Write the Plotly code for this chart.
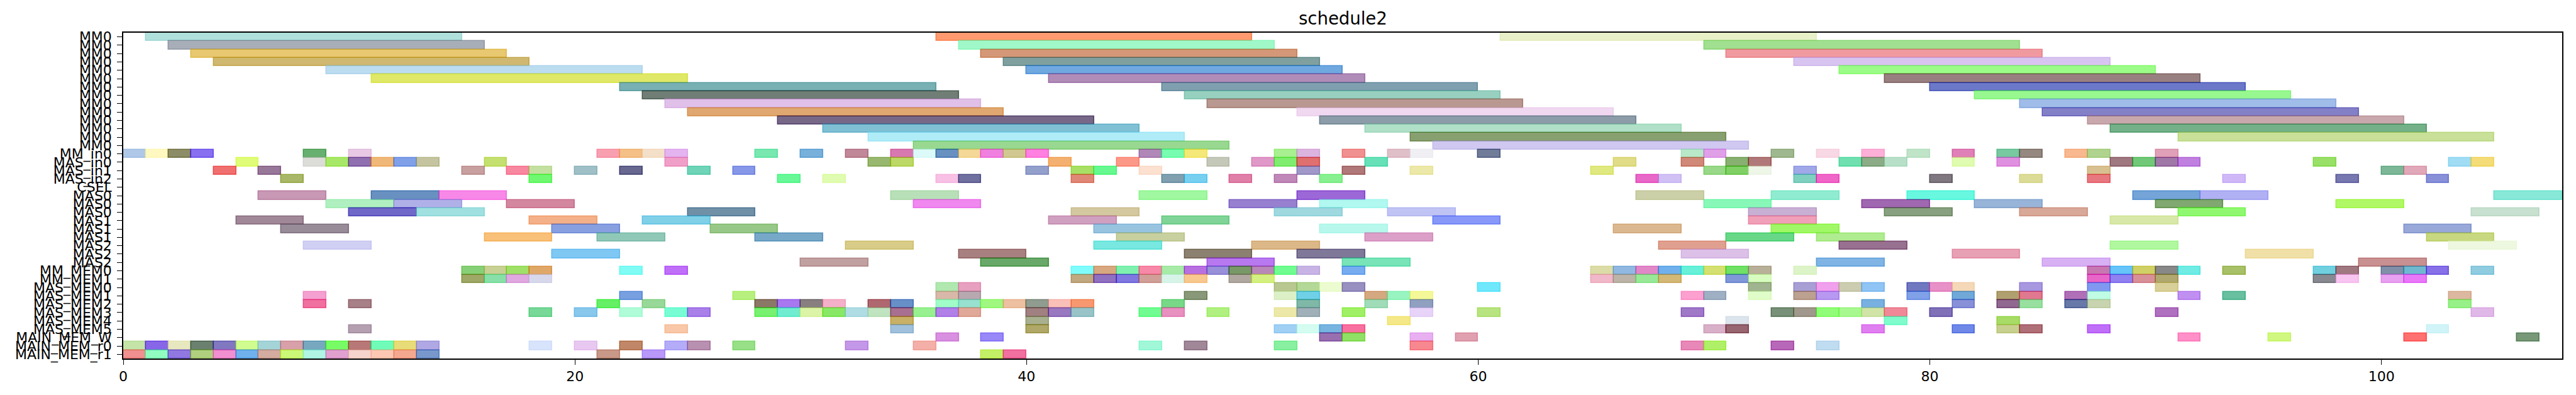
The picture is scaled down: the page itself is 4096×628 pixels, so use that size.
import plotly.graph_objects as go

ROW_LABELS = (["MM0"] * 14 + ["MM_in0", "MAS_in0", "MAS_in1", "MAS_in2", "CSEL"]
              + ["MAS0"] * 3 + ["MAS1"] * 3 + ["MAS2"] * 3
              + ["MM_MEM0", "MM_MEM1", "MAS_MEM0", "MAS_MEM1", "MAS_MEM2", "MAS_MEM3",
                 "MAS_MEM4", "MAS_MEM5", "MAIN_MEM_W", "MAIN_MEM_r0", "MAIN_MEM_r1"])

X_TICKS = [0, 20, 40, 60, 80, 100]
X_MAX = 108
TITLE = "schedule2"

# task spans (start, end) per row, and their colours
SPANS = [None] * 39
COLS = [None] * 39

SPANS[0] = [(1, 15), (36, 50), (61, 75)]
COLS[0] = ["#b0e0dc", "#ff9a70", "#e8f0c8"]
SPANS[1] = [(2, 16), (37, 51), (70, 84)]
COLS[1] = ["#a8aeb8", "#a0f8c8", "#a0e090"]
SPANS[2] = [(3, 17), (38, 52), (71, 85)]
COLS[2] = ["#e8c870", "#d49878", "#f09aa0"]
SPANS[3] = [(4, 18), (39, 53), (74, 88)]
COLS[3] = ["#d0b870", "#80a0a0", "#d8c4f0"]
SPANS[4] = [(9, 23), (40, 54), (76, 90)]
COLS[4] = ["#bcdcf0", "#70a8e0", "#9cfc88"]
SPANS[5] = [(11, 25), (41, 55), (78, 92)]
COLS[5] = ["#e0e868", "#b08cb8", "#988080"]
SPANS[6] = [(22, 36), (46, 60), (80, 94)]
COLS[6] = ["#78b0b4", "#80a0b0", "#6c78c8"]
SPANS[7] = [(23, 37), (47, 61), (82, 96)]
COLS[7] = ["#707e76", "#98d0c0", "#98f890"]
SPANS[8] = [(24, 38), (48, 62), (84, 98)]
COLS[8] = ["#e0c0e8", "#b89890", "#a0bce8"]
SPANS[9] = [(25, 39), (52, 66), (85, 99)]
COLS[9] = ["#e0a870", "#f0d8f0", "#8480c8"]
SPANS[10] = [(29, 43), (53, 67), (87, 101)]
COLS[10] = ["#786888", "#8c9ca8", "#c8a8ac"]
SPANS[11] = [(31, 45), (55, 69), (88, 102)]
COLS[11] = ["#80c0d4", "#b0e0c8", "#74b088"]
SPANS[12] = [(33, 47), (57, 71), (91, 105)]
COLS[12] = ["#b0ecf8", "#88a070", "#c8e098"]
SPANS[13] = [(35, 49), (58, 72)]
COLS[13] = ["#98d890", "#d0c8f0"]

SPANS[14] = [(0, 1), (1, 2), (2, 3), (3, 4), (8, 9), (10, 11), (21, 22), (22, 23), (23, 24), (24, 25),
             (28, 29), (30, 31), (32, 33), (34, 35), (35, 36), (36, 37), (37, 38), (38, 39), (39, 40),
             (40, 41), (45, 46), (46, 47), (47, 48), (51, 52), (52, 53), (54, 55), (56, 57), (57, 58),
             (60, 61), (69, 70), (70, 71), (73, 74), (75, 76), (77, 78), (79, 80), (81, 82), (83, 84),
             (84, 85), (86, 87), (87, 88), (90, 91)]
COLS[14] = ["#b0c8e8", "#fff8c0", "#8c8c60", "#8870f0", "#68b070", "#e8c8e4", "#f8a0b0", "#f4c088",
            "#f4e0c8", "#e4b4f0", "#78e8b0", "#78b0dc", "#c08898", "#d878b0", "#dcfaf8", "#6890c0",
            "#f4d898", "#f080e0", "#d0c890", "#ff80e0", "#b088b8", "#78fcb0", "#f4e878", "#a8f090",
            "#dcb4e0", "#f09090", "#e0c0c8", "#f0f0f4", "#707c98", "#b8e8c8", "#e0a0e8", "#a0b890",
            "#f8d8e4", "#fcb0d8", "#c0e4c8", "#e080b8", "#78c8a0", "#948880", "#f8b890", "#b0d490",
            "#e0a0b8"]

SPANS[15] = [(5, 6), (8, 9), (9, 10), (10, 11), (11, 12), (12, 13), (13, 14), (16, 17), (24, 25),
             (33, 34), (34, 35), (41, 42), (44, 45), (48, 49), (50, 51), (51, 52), (52, 53), (55, 56),
             (66, 67), (69, 70), (71, 72), (72, 73), (76, 77), (77, 78), (78, 79), (81, 82), (83, 84),
             (88, 89), (89, 90), (90, 91), (91, 92), (97, 98), (103, 104), (104, 105)]
COLS[15] = ["#e0fc78", "#dcdcd8", "#a8e868", "#9070b0", "#f0b878", "#80a0e8", "#c4c4a0", "#c4e070",
            "#f0a0c8", "#98b870", "#bcd860", "#f4b070", "#fc9888", "#c4c8b8", "#e098c8", "#80ec70",
            "#e07070", "#68e0b8", "#e0dc88", "#d08878", "#88b070", "#b07878", "#70e0b0", "#8cac88",
            "#b8e0c8", "#e0fcb0", "#e090e0", "#a07880", "#70c878", "#a078a8", "#c080e0", "#98e068",
            "#a0dcf4", "#f4dc78"]

SPANS[16] = [(4, 5), (6, 7), (15, 16), (17, 18), (18, 19), (20, 21), (22, 23), (25, 26), (27, 28),
             (40, 41), (42, 43), (43, 44), (45, 46), (52, 53), (54, 55), (57, 58), (65, 66), (70, 71),
             (71, 72), (72, 73), (74, 75), (87, 88), (100, 101), (101, 102)]
COLS[16] = ["#f07070", "#987898", "#c8a0a0", "#f888a0", "#c4e0a0", "#a0c0c8", "#686890", "#70d4b8",
            "#8898e8", "#94a0cc", "#a8e060", "#68f890", "#fce0d0", "#a098c8", "#b07878", "#ece8a8",
            "#e0e880", "#98d888", "#80d060", "#eef6e8", "#a0a8e8", "#d8c090", "#7cb898", "#e0a8b8"]

SPANS[17] = [(7, 8), (18, 19), (29, 30), (31, 32), (36, 37), (37, 38), (42, 43), (46, 47), (47, 48),
             (49, 50), (51, 52), (53, 54), (67, 68), (68, 69), (74, 75), (75, 76), (80, 81), (84, 85),
             (87, 88), (93, 94), (98, 99), (102, 103)]
COLS[17] = ["#a8b868", "#70f870", "#68f898", "#e0fcb0", "#f8c0e4", "#7070a0", "#e08878", "#80a0b0",
            "#78d0f0", "#e080a8", "#c088b8", "#88f090", "#e868c8", "#d0c0f4", "#80d0c0", "#f060c8",
            "#807880", "#dcdc98", "#e87880", "#d0b8f8", "#7878b0", "#8890d8"]

SPANS[18] = []
COLS[18] = []

SPANS[19] = [(6, 9), (11, 14), (14, 17), (34, 37), (45, 48), (52, 55), (67, 70), (73, 76), (79, 82),
             (89, 92), (92, 95), (105, 108)]
COLS[19] = ["#c898b4", "#6890c0", "#f888e8", "#b8e0b8", "#a0f8a0", "#9c68d8", "#ccd0a8", "#90ecd0",
            "#68f8e0", "#74a4d8", "#b0b0f4", "#88e8d8"]
SPANS[20] = [(9, 12), (12, 15), (17, 20), (35, 38), (49, 52), (53, 56), (70, 73), (77, 80), (82, 85),
             (90, 93), (98, 101)]
COLS[20] = ["#b0f0c0", "#b0b0e8", "#d488a0", "#f088f0", "#9880d0", "#b0f8f0", "#88f8b8", "#a068b0",
            "#98b4d8", "#80a870", "#b0f860"]
SPANS[21] = [(10, 13), (13, 16), (25, 28), (42, 45), (51, 54), (56, 59), (72, 75), (78, 81), (84, 87),
             (91, 94), (104, 107)]
COLS[21] = ["#7068c8", "#a0e0e0", "#7090a8", "#d4c8a0", "#a0d8e0", "#c0c4f4", "#c8b0d4", "#88a080",
            "#d8a898", "#90f870", "#c8e0d0"]
SPANS[22] = [(5, 8), (18, 21), (23, 26), (41, 44), (46, 49), (58, 61), (72, 75), (88, 91)]
COLS[22] = ["#a08898", "#f4b088", "#80d0e8", "#d0a0c0", "#80d498", "#8898f8", "#f0a0b8", "#d8e8a8"]
SPANS[23] = [(7, 10), (19, 22), (26, 29), (43, 46), (53, 56), (66, 69), (73, 76), (101, 104)]
COLS[23] = ["#988c98", "#88a0e0", "#98c888", "#98c4e0", "#b8f8ec", "#dcb890", "#a0f860", "#98a8d8"]
SPANS[24] = [(16, 19), (21, 24), (28, 31), (44, 47), (55, 58), (71, 74), (75, 78), (102, 105)]
COLS[24] = ["#f8c078", "#90c8b8", "#78a8c8", "#c8d0a0", "#dca0c8", "#68d888", "#b0ec90", "#c8d880"]
SPANS[25] = [(8, 11), (32, 35), (43, 46), (50, 53), (68, 71), (76, 79), (88, 91), (103, 106)]
COLS[25] = ["#d0d0f4", "#d8cc88", "#78e8e0", "#dcb888", "#e0a090", "#987090", "#b0f8a0", "#eef8e0"]
SPANS[26] = [(19, 22), (37, 40), (47, 50), (52, 55), (69, 72), (81, 84), (94, 97)]
COLS[26] = ["#80c8f4", "#a88080", "#8c8070", "#807898", "#dcc0e8", "#e8a0b4", "#f0e0a8"]
SPANS[27] = [(30, 33), (38, 41), (48, 51), (54, 57), (75, 78), (85, 88), (99, 102)]
COLS[27] = ["#c0a0a0", "#68a868", "#b878f0", "#78e4b8", "#80b4e4", "#d8b0f4", "#c89090"]

SPANS[28] = [(15, 16), (16, 17), (17, 18), (18, 19), (22, 23), (24, 25), (42, 43), (43, 44), (44, 45),
             (45, 46), (46, 47), (47, 48), (48, 49), (49, 50), (50, 51), (51, 52), (52, 53), (54, 55),
             (65, 66), (66, 67), (67, 68), (68, 69), (69, 70), (70, 71), (71, 72), (72, 73), (74, 75),
             (87, 88), (88, 89), (89, 90), (90, 91), (91, 92), (93, 94), (97, 98), (98, 99), (100, 101),
             (101, 102), (102, 103), (104, 105)]
COLS[28] = ["#88d078", "#c8d094", "#a0e068", "#e0a868", "#80fcf4", "#c070f8", "#80fcfc", "#d8a880",
            "#80f0b0", "#f888a8", "#a8eaa8", "#b870e0", "#9890d8", "#789868", "#b888b8", "#70fc90",
            "#c8b4e4", "#78acf0", "#dcdca8", "#90b8e0", "#e088c8", "#70b0ec", "#68f0d8", "#d4e070",
            "#70e060", "#b8b098", "#ddf4c8", "#c878b0", "#60c4f8", "#d0d060", "#888888", "#70ece4",
            "#a8c068", "#70d0e0", "#a07880", "#8090a8", "#70b8d0", "#8870e8", "#90cce0"]

SPANS[29] = [(15, 16), (16, 17), (17, 18), (18, 19), (42, 43), (43, 44), (44, 45), (45, 46), (46, 47),
             (47, 48), (49, 50), (50, 51), (65, 66), (66, 67), (67, 68), (68, 69), (71, 72), (72, 73),
             (87, 88), (88, 89), (89, 90), (90, 91), (97, 98), (98, 99), (100, 101), (101, 102)]
COLS[29] = ["#a0a868", "#88e0a8", "#e0a8e0", "#d8d8ec", "#c0a880", "#9070c0", "#8078e0", "#d0a098",
            "#d8f4e8", "#f8c890", "#b0a8a0", "#d4f080", "#f0b8c8", "#bcb4a8", "#98e898", "#d4b878",
            "#8098d8", "#d8fcc0", "#e860c8", "#9080f0", "#d89098", "#b0a870", "#888890", "#f8c4f0",
            "#e8a0f0", "#e878f8"]

SPANS[30] = [(36, 37), (37, 38), (51, 52), (52, 53), (53, 54), (54, 55), (60, 61), (72, 73), (74, 75),
             (75, 76), (76, 77), (77, 78), (79, 80), (80, 81), (81, 82), (84, 85), (87, 88), (90, 91)]
COLS[30] = ["#b0e8b0", "#e8a0c0", "#b8c890", "#b4d898", "#ecfcd0", "#9890c0", "#70e8fc", "#a0b490",
            "#a8a0d4", "#f0a0ec", "#ccccb0", "#90c4f4", "#7078c0", "#e890c8", "#f4d8b8", "#a898e0",
            "#8098f0", "#d8d098"]

SPANS[31] = [(8, 9), (22, 23), (27, 28), (36, 37), (37, 38), (47, 48), (51, 52), (52, 53), (55, 56),
             (56, 57), (57, 58), (69, 70), (70, 71), (72, 73), (74, 75), (75, 76), (79, 80), (81, 82),
             (83, 84), (84, 85), (86, 87), (87, 88), (91, 92), (93, 94), (103, 104)]
COLS[31] = ["#f4a0d0", "#78a0e0", "#b8f080", "#d8b8a8", "#b8a8b0", "#889878", "#dcf0c8", "#70d0e8",
            "#d4a880", "#98f4c0", "#f4f898", "#fca0d0", "#a0b0c4", "#e0fcc8", "#bca090", "#b898f0",
            "#80a0e8", "#70a8d8", "#b0a070", "#e07890", "#b070b8", "#c0fce4", "#c090f0", "#68c0a0",
            "#dcb8a0"]

SPANS[32] = [(8, 9), (10, 11), (21, 22), (23, 24), (28, 29), (29, 30), (30, 31), (31, 32), (33, 34),
             (34, 35), (36, 37), (37, 38), (38, 39), (39, 40), (40, 41), (41, 42), (42, 43), (46, 47),
             (52, 53), (55, 56), (57, 58), (77, 78), (81, 82), (83, 84), (84, 85), (86, 87), (87, 88),
             (103, 104)]
COLS[32] = ["#f070a0", "#a88088", "#60f060", "#98d898", "#8c7860", "#a878f0", "#888080", "#f4b0c8",
            "#b06870", "#6890c8", "#a0fcc8", "#98e0d0", "#a0f880", "#ecc0a0", "#909c90", "#f8c0b8",
            "#f89870", "#78d888", "#80b8a8", "#a0dcb8", "#90a0c0", "#78b0e0", "#8890d8", "#906890",
            "#98e0a0", "#6878a8", "#c8d4b0", "#98f088"]

SPANS[33] = [(18, 19), (20, 21), (22, 23), (24, 25), (25, 26), (28, 29), (29, 30), (30, 31), (31, 32),
             (32, 33), (33, 34), (34, 35), (35, 36), (36, 37), (37, 38), (40, 41), (41, 42), (42, 43),
             (45, 46), (46, 47), (48, 49), (51, 52), (52, 53), (54, 55), (57, 58), (60, 61), (69, 70),
             (73, 74), (74, 75), (75, 76), (76, 77), (77, 78), (78, 79), (80, 81), (90, 91), (104, 105)]
COLS[33] = ["#78d898", "#88c8ec", "#b0fcd8", "#78fcd4", "#a880e8", "#78f070", "#70ecd0", "#dcf4a8",
            "#88e860", "#b0dce4", "#c0e4c0", "#a87090", "#98f090", "#b080e8", "#e0a898", "#a08080",
            "#9878c0", "#98c4c8", "#70fc90", "#e890c0", "#b0f080", "#ece8a8", "#a0b0b8", "#a0f060",
            "#e8d4f8", "#b8e480", "#a078c8", "#789078", "#a0988c", "#90fc78", "#a8f890", "#d0e4a8",
            "#f08898", "#8070b8", "#b070c0", "#e0b8e8"]

SPANS[34] = [(34, 35), (40, 41), (56, 57), (71, 72), (78, 79), (83, 84)]
COLS[34] = ["#c8b060", "#a8b090", "#f4e888", "#dce4ec", "#80fccc", "#a8dc60"]

SPANS[35] = [(10, 11), (24, 25), (34, 35), (40, 41), (51, 52), (52, 53), (53, 54), (54, 55), (70, 71),
             (71, 72), (77, 78), (81, 82), (83, 84), (84, 85), (87, 88), (102, 103)]
COLS[35] = ["#b4a0b0", "#f8c8a8", "#a0c0dc", "#b0a868", "#a0d0f4", "#d4fcf0", "#78b4e0", "#f870a0",
            "#d8b0c8", "#986070", "#e080f0", "#7088e8", "#c8d090", "#b07078", "#c070f8", "#d0f4f8"]

SPANS[36] = [(36, 37), (38, 39), (53, 54), (54, 55), (57, 58), (59, 60), (91, 92), (95, 96),
             (101, 102), (106, 107)]
COLS[36] = ["#d890e0", "#9888f8", "#9870b0", "#90e060", "#e8b0f0", "#e0a0b0", "#ff90c8", "#d0f880",
            "#ff7070", "#789878"]

SPANS[37] = [(0, 1), (1, 2), (2, 3), (3, 4), (4, 5), (5, 6), (6, 7), (7, 8), (8, 9), (9, 10), (10, 11),
             (11, 12), (12, 13), (13, 14), (18, 19), (20, 21), (22, 23), (24, 25), (25, 26), (27, 28),
             (32, 33), (35, 36), (45, 46), (47, 48), (51, 52), (57, 58), (69, 70), (70, 71), (73, 74),
             (75, 76)]
COLS[37] = ["#c4e4a8", "#8860e8", "#e8e8c0", "#6c8070", "#8078c0", "#d0fc90", "#a4d4d8", "#d8a0a8",
            "#78a8c0", "#78fc60", "#b87878", "#70fcb8", "#e8dc78", "#b0a8e4", "#d8e4fc", "#e8c8f0",
            "#c08868", "#b4acf8", "#b890b0", "#98e088", "#c498e8", "#f4b0a8", "#a0f8d8", "#a08898",
            "#88f0a0", "#f88890", "#e888b8", "#b0f068", "#b868b8", "#c0dcf0"]

SPANS[38] = [(0, 1), (1, 2), (2, 3), (3, 4), (4, 5), (5, 6), (6, 7), (7, 8), (8, 9), (9, 10), (10, 11),
             (11, 12), (12, 13), (13, 14), (21, 22), (23, 24), (38, 39), (39, 40)]
COLS[38] = ["#f09090", "#90fcc0", "#9078e0", "#b0d080", "#f090d0", "#70b0ec", "#d4aca0", "#ccf878",
            "#b0f4e4", "#e0a0d0", "#f4d4cc", "#fcc8b4", "#f4a890", "#7898cc", "#c89888", "#b898f8",
            "#c4f068", "#f070a0"]

for i in range(39):
    if len(SPANS[i]) != len(COLS[i]):
        raise ValueError(f"row {i}: {len(SPANS[i])} spans vs {len(COLS[i])} colours")

ALPHA = 0.6


def base_rgba(hexc, a=ALPHA):
    h = hexc.lstrip("#")
    vals = [int(h[k:k + 2], 16) for k in (0, 2, 4)]
    c = [max(0, min(255, round((v - (1 - a) * 255) / a))) for v in vals]
    return f"rgba({c[0]},{c[1]},{c[2]},{a})"


ys, bases, lens, fills = [], [], [], []
for r in range(39):
    for (s, e), col in zip(SPANS[r], COLS[r]):
        ys.append(r)
        bases.append(s)
        lens.append(e - s)
        fills.append(base_rgba(col))

fig = go.Figure()
fig.add_trace(go.Bar(
    x=lens, base=bases, y=ys, orientation="h", width=1.0,
    marker=dict(color=fills, line=dict(color=fills, width=1.6)),
    hoverinfo="skip", showlegend=False,
))

FONT = "DejaVu Sans"
axis_common = dict(showline=True, linecolor="black", linewidth=1.5, mirror=True,
                   ticks="outside", ticklen=8, tickwidth=1.4, tickcolor="black",
                   showgrid=False, zeroline=False,
                   tickfont=dict(family=FONT, size=22, color="black"))

fig.update_layout(
    width=4096, height=628, autosize=False,
    margin=dict(l=196, r=22, t=52, b=58),
    plot_bgcolor="white", paper_bgcolor="white",
    barmode="overlay", bargap=0,
    xaxis=dict(range=[0, X_MAX], tickvals=X_TICKS, ticktext=[str(v) for v in X_TICKS], **axis_common),
    yaxis=dict(range=[38.5, -0.5], tickvals=list(range(39)), ticktext=ROW_LABELS,
               ticklabelstandoff=4, **axis_common),
    annotations=[dict(text=TITLE, x=0.5, y=1, xref="paper", yref="paper",
                      xanchor="center", yanchor="bottom", yshift=5, showarrow=False,
                      font=dict(family=FONT, size=27.5, color="black"))],
)

fig.write_html("out.html", config={"displayModeBar": False},
               post_script="document.body.style.margin='0';")
